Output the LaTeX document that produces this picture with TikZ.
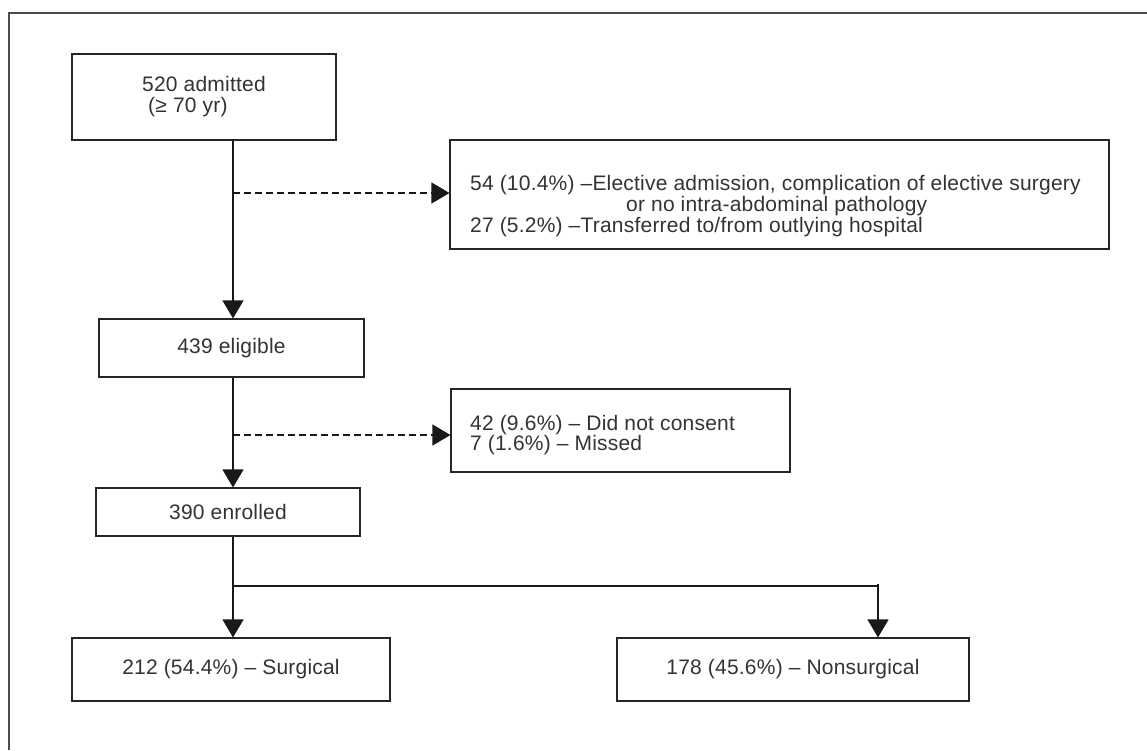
\documentclass[tikz,border=0pt]{standalone}
\usepackage{fontspec}
\setmainfont{Liberation Sans}[LetterSpace=1]
\usetikzlibrary{arrows.meta}
\begin{document}
\begin{tikzpicture}[x=1pt,y=-1pt,
  frame/.style={draw=black!70, line width=1.4pt},
  box/.style={draw=black!85, line width=1.1pt, rectangle, inner sep=0pt,
    text=black!80, font=\fontsize{21}{20}\selectfont},
  txt/.style={inner sep=0pt, text=black!80, align=left},
  conn/.style={draw=black!90, line width=1.1pt},
  arr/.style={conn, -{Triangle[length=18pt,width=21pt]}},
  dsh/.style={arr, dash pattern=on 7pt off 4pt}]
\useasboundingbox (0,0) rectangle (1147,750);
\fill[white] (0,0) rectangle (1147,750);
\draw[frame] (9,750) -- (9,13) -- (1147,13);

% boxes
\node[box, align=left, minimum width=264, minimum height=86] (adm) at (204,97)
  {520 admitted\\[1pt]\hspace*{6pt}(≥ 70 yr)};
\node[box, minimum width=659, minimum height=109] (exc1) at (779.5,194.5) {};
\node[txt, anchor=west, font=\fontsize{21}{19}\selectfont] (exc1t) at (470,206)
  {54 (10.4\%) –Elective admission, complication of elective surgery\\
   \hspace*{156pt}or no intra-abdominal pathology\\
   27 (5.2\%) –Transferred to/from outlying hospital};
\node[box, minimum width=265, minimum height=58] (elig) at (231.5,348) {439 eligible};
\node[box, minimum width=339, minimum height=83] (exc2) at (620.5,430.5) {};
\node[txt, anchor=west, font=\fontsize{21}{17.5}\selectfont] (exc2t) at (470,435)
  {42 (9.6\%) – Did not consent\\
   7 (1.6\%) – Missed};
\node[box, minimum width=264, minimum height=48] (enr) at (228,512) {390 enrolled};
\node[box, minimum width=318, minimum height=63] (surg) at (231,669.5) {212 (54.4\%) – Surgical};
\node[box, minimum width=352, minimum height=63] (nons) at (793,669.5) {178 (45.6\%) – Nonsurgical};

% junction points
\coordinate (d1) at (233,193);
\coordinate (d2) at (233,435);
\coordinate (br) at (233,586);
\coordinate (brR) at (878,586);
\coordinate (brT) at (878,584);

% connectors
\draw[arr] (adm.south -| d1) -- (elig.north -| d1);
\draw[dsh] (d1) -- (d1 -| exc1.west);
\draw[arr] (elig.south -| d1) -- (enr.north -| d1);
\draw[dsh] (d2) -- (d2 -| exc2.west);
\draw[arr] (enr.south -| d1) -- (surg.north -| d1);
\draw[conn] (br) -- (brR);
\draw[arr] (brT) -- (nons.north -| brT);
\end{tikzpicture}
\end{document}
